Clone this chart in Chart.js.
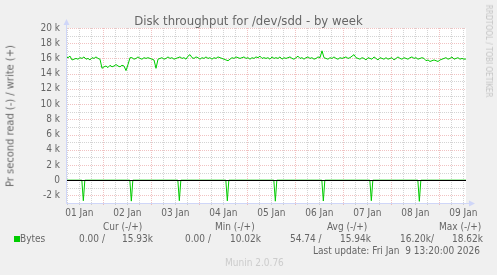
<!DOCTYPE html>
<html><head><meta charset="utf-8">
<script src="https://cdn.jsdelivr.net/npm/chart.js@4.4.1/dist/chart.umd.min.js"></script>
<style>
html,body{margin:0;padding:0;background:#f0f0f0;}
#wrap{position:relative;width:497px;height:275px;overflow:hidden;background:#f0f0f0;font-family:'DejaVu Sans Condensed','DejaVu Sans',sans-serif;color:#666;}
canvas{position:absolute;left:0;top:0;}
.t{position:absolute;white-space:pre;font-size:10px;line-height:12px;}
.rot{position:absolute;white-space:pre;line-height:1;}
</style></head><body>
<div id="wrap">
<canvas id="c" width="497" height="275"></canvas>
<div class="t" id="title" style="left:0;width:497px;text-align:center;top:13px;font-size:13px;line-height:16px;">Disk throughput for /dev/sdd - by week</div>
<div class="rot" style="left:10px;top:116px;font-size:11px;transform:translate(-50%,-50%) rotate(-90deg);">Pr second read (-) / write (+)</div>
<div class="rot" style="left:488px;top:51px;font-size:8px;color:#c4c4c4;transform:translate(-50%,-50%) rotate(90deg);">RRDTOOL / TOBI OETIKER</div>
<div class="t" style="left:103px;top:221px;">Cur (-/+)</div>
<div class="t" style="left:215px;top:221px;">Min (-/+)</div>
<div class="t" style="left:327px;top:221px;">Avg (-/+)</div>
<div class="t" style="left:439px;top:221px;">Max (-/+)</div>
<div style="position:absolute;left:14px;top:236px;width:6px;height:6px;background:#00cc00;"></div>
<div class="t" style="left:20px;top:233px;">Bytes</div>
<div class="t" style="left:79px;top:233px;">0.00 /</div>
<div class="t" style="left:122px;top:233px;">15.93k</div>
<div class="t" style="left:185px;top:233px;">0.00 /</div>
<div class="t" style="left:230px;top:233px;">10.02k</div>
<div class="t" style="left:290px;top:233px;">54.74 /</div>
<div class="t" style="left:340px;top:233px;">15.94k</div>
<div class="t" style="left:400px;top:233px;">16.20k/</div>
<div class="t" style="left:452px;top:233px;">18.62k</div>
<div class="t" style="left:313px;top:245px;">Last update: Fri Jan  9 13:20:00 2026</div>
<div class="t" style="left:225px;top:257px;color:#cccccc;">Munin 2.0.76</div>
</div>
<script>
// ---- data ----
const dayLabels = ['01 Jan','02 Jan','03 Jan','04 Jan','05 Jan','06 Jan','07 Jan','08 Jan','09 Jan'];
const dayLabelHours = [12,36,60,84,108,132,156,180,204]; // hours since 01 Jan 00:00
const yTickValues = [-2000,0,2000,4000,6000,8000,10000,12000,14000,16000,18000,20000];
const yTickLabels = ['-2 k','0','2 k','4 k','6 k','8 k','10 k','12 k','14 k','16 k','18 k','20 k'];
const startHour = 5.333;   // left edge of graph
const endHour = 205.333;   // Fri Jan 9 13:20
// write bytes/s (k), one sample per hour from startHour
const writeK = [
16.2,16.1,16.3,15.8,15.9,16.0,15.9,16.1,16.0,16.2,
15.9,16.0,15.8,16.1,16.0,16.2,16.0,15.9,14.7,14.9,
15.0,14.8,15.1,14.9,15.0,15.2,15.0,14.9,15.1,15.0,
14.4,15.2,16.1,16.1,15.9,16.0,16.2,16.0,15.9,16.1,
16.0,16.1,16.0,15.9,15.8,14.7,15.9,16.0,16.1,15.9,
16.0,16.2,16.0,16.1,15.9,16.0,16.1,16.2,16.0,16.1,
15.9,16.3,16.5,16.1,16.0,16.2,16.1,15.9,16.1,16.0,
16.2,16.0,16.1,15.9,16.1,16.0,16.2,16.1,16.0,15.9,
15.8,15.7,15.9,16.1,16.0,16.2,16.1,16.0,16.1,16.2,
16.0,16.1,15.9,16.1,16.0,16.2,16.1,16.3,16.0,16.1,
16.0,16.1,15.9,16.2,16.0,16.1,16.0,16.2,15.9,16.1,
16.0,16.1,16.2,16.0,15.9,16.1,16.3,16.0,16.1,15.9,
16.1,16.2,16.0,16.1,15.9,16.0,16.2,16.1,17.0,16.1,
16.0,15.9,16.1,16.0,16.2,16.0,15.9,16.1,16.0,16.1,
16.2,16.0,16.1,16.3,16.5,16.1,16.0,15.9,16.1,16.0,
15.8,16.1,16.0,15.9,16.2,16.0,15.8,16.1,16.0,15.9,
16.1,15.9,16.0,16.1,15.8,16.0,16.2,16.0,15.9,16.1,
16.0,15.9,16.1,16.2,16.0,16.1,15.9,16.0,16.1,16.0,
15.7,15.8,15.6,15.7,15.8,15.7,15.6,15.8,15.9,16.0,
16.1,15.9,16.0,16.2,15.9,16.0,16.1,15.9,16.0,15.9,
15.93];
// read bytes/s (shown negative): sample times (hours) and values
const readHours = [5.333,13.25,14,14.75, 37.25,38,38.75, 61.25,62,62.75, 85.25,86,86.75,
  109.25,110,110.75, 133.25,134,134.75, 157.25,158,158.75, 181.25,182,182.75, 205.333];
const readValues = [0,0,2700,0, 0,2750,0, 0,2700,0, 0,2720,0, 0,2760,0, 0,2740,0, 0,2700,0, 0,2780,0, 0];

const writeData = writeK.map((v,i)=>({x: startHour + i, y: v*1000}));
const readData = readHours.map((h,i)=>({x: h, y: -readValues[i]}));

const FONT = "'DejaVu Sans Condensed','DejaVu Sans',sans-serif";

const rrdGrid = {
  id:'rrdGrid',
  beforeDatasetsDraw(chart){
    const {ctx, chartArea:a, scales:{x,y}} = chart;
    ctx.save();
    ctx.fillStyle='#ffffff';
    ctx.fillRect(a.left, a.top, a.right-a.left, a.bottom-a.top);
    ctx.lineWidth=1;
    ctx.setLineDash([1,1]);
    const hl=(v)=>{const p=Math.round(y.getPixelForValue(v))+0.5; ctx.beginPath(); ctx.moveTo(a.left,p); ctx.lineTo(a.right,p); ctx.stroke();};
    const vl=(h)=>{const p=Math.round(x.getPixelForValue(h))+0.5; ctx.beginPath(); ctx.moveTo(p,a.top); ctx.lineTo(p,a.bottom+2); ctx.stroke();};
    ctx.strokeStyle='rgba(170,170,170,0.5)';
    for(let v=-2000; v<=20000; v+=1000) if(v%2000!==0) hl(v);
    for(let h=6; h<endHour; h+=6) if(h%24!==0) vl(h);
    ctx.strokeStyle='rgba(225,120,120,0.45)';
    for(let v=-2000; v<=20000; v+=2000) hl(v);
    for(let h=24; h<endHour; h+=24) vl(h);
    ctx.restore();
  },
  afterDatasetsDraw(chart){
    const {ctx, chartArea:a, scales:{x,y}} = chart;
    ctx.save();
    ctx.lineWidth=1;
    // zero line
    const z=Math.round(y.getPixelForValue(0))+0.5;
    ctx.strokeStyle='#000000';
    ctx.beginPath(); ctx.moveTo(a.left,z); ctx.lineTo(a.right,z); ctx.stroke();
    // axes with arrows
    ctx.strokeStyle='#cfd6f8'; ctx.fillStyle='#cfd6f8';
    const L=Math.round(a.left)+0.5, B=Math.round(a.bottom)+0.5;
    ctx.beginPath(); ctx.moveTo(L,B); ctx.lineTo(L,a.top-4); ctx.stroke();
    ctx.beginPath(); ctx.moveTo(L-3,a.top-3); ctx.lineTo(L+3,a.top-3); ctx.lineTo(L,a.top-9); ctx.closePath(); ctx.fill();
    ctx.beginPath(); ctx.moveTo(L,B); ctx.lineTo(a.right+4,B); ctx.stroke();
    ctx.beginPath(); ctx.moveTo(a.right+3,B-3); ctx.lineTo(a.right+3,B+3); ctx.lineTo(a.right+9,B); ctx.closePath(); ctx.fill();
    ctx.restore();
  }
};

new Chart(document.getElementById('c'), {
  type:'line',
  data:{datasets:[
    {label:'write', data:writeData, borderColor:'#00cc00', borderWidth:1, pointRadius:0, tension:0, fill:false},
    {label:'read', data:readData, borderColor:'#00cc00', borderWidth:1, pointRadius:0, tension:0, fill:false}
  ]},
  options:{
    responsive:false, animation:false, devicePixelRatio:1,
    layout:{padding:{top:28,right:31,left:0,bottom:0}},
    plugins:{legend:{display:false}, tooltip:{enabled:false}, title:{display:false}},
    scales:{
      x:{type:'linear', min:startHour, max:endHour,
        afterBuildTicks:(s)=>{s.ticks = dayLabelHours.map(v=>({value:v}));},
        afterFit:(s)=>{s.height=72;},
        ticks:{autoSkip:false, maxRotation:0, padding:4, color:'#666', font:{family:FONT,size:10},
          callback:(v)=>{const i=dayLabelHours.indexOf(v); return i>=0?dayLabels[i]:'';}},
        grid:{display:false, drawTicks:false}, border:{display:false}},
      y:{type:'linear', min:-3000, max:20000,
        afterBuildTicks:(s)=>{s.ticks = yTickValues.map(v=>({value:v}));},
        afterFit:(s)=>{s.width=66;},
        ticks:{autoSkip:false, padding:6, color:'#666', font:{family:FONT,size:10},
          callback:(v)=>{const i=yTickValues.indexOf(v); return i>=0?yTickLabels[i]:'';}},
        grid:{display:false, drawTicks:false}, border:{display:false}}
    }
  },
  plugins:[rrdGrid]
});
</script>
</body></html>
